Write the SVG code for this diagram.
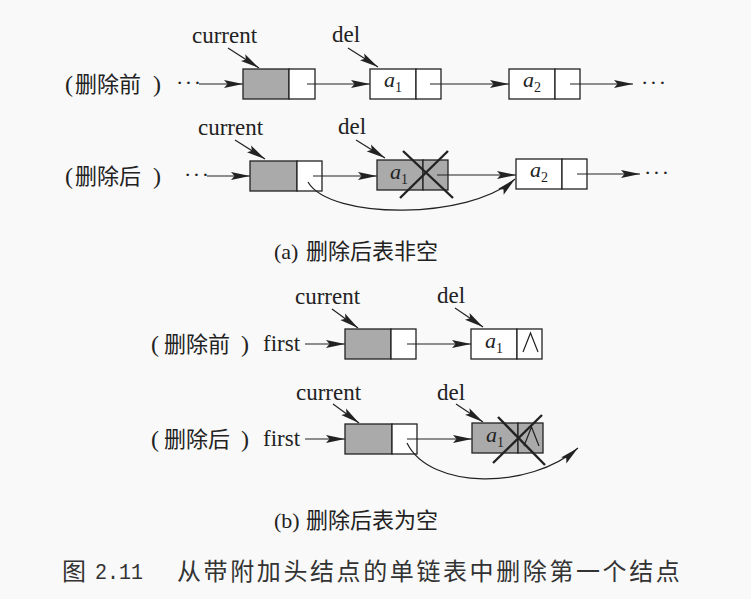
<svg xmlns="http://www.w3.org/2000/svg" width="751" height="599" viewBox="0 0 751 599">
<style>
.box{fill:#ffffff;stroke:#222;stroke-width:1.3}
.g{fill:#aaaaaa;stroke:#222;stroke-width:1.3}
.ln{fill:none;stroke:#222;stroke-width:1.2}
.x{fill:none;stroke:#222;stroke-width:2.4}
.t{font-family:"Liberation Serif","Times New Roman",serif;font-size:23px;fill:#222}
.a{font-family:"Liberation Serif","Times New Roman",serif;font-size:22px;font-style:italic;fill:#222}
.sub{font-style:normal;font-size:14px}
.cjk{font-family:"Noto Sans CJK SC",sans-serif;font-size:22px;fill:#222}
.par{font-family:"Liberation Serif",serif;font-size:24px;fill:#222}
.dots{font-family:"Liberation Serif",serif;font-size:22px;fill:#222;letter-spacing:1.5px}
.cap{font-family:"Liberation Serif","Noto Sans CJK SC",serif;font-size:22px;fill:#222}
.capc{font-family:"Noto Sans CJK SC",sans-serif;font-size:22px;fill:#222}
.fig{font-family:"Noto Sans CJK SC",sans-serif;font-size:24px;fill:#333}
</style>
<defs>
<marker id="ah" markerUnits="userSpaceOnUse" markerWidth="19" markerHeight="9" refX="19" refY="4.5" orient="auto">
<path d="M0,0.5 L19,4.5 L0,8.5 L3.5,4.5 Z" fill="#222"/>
</marker>
</defs>
<rect x="0" y="0" width="751" height="599" fill="#f9f9f9"/>

<!-- labels -->
<g id="labels">
<text class="par" x="65" y="92">(</text><text class="cjk" x="75" y="92">删除前</text><text class="par" x="153" y="92">)</text>
<text class="par" x="65" y="184">(</text><text class="cjk" x="75" y="184">删除后</text><text class="par" x="153" y="184">)</text>
<text class="par" x="151" y="352">(</text><text class="cjk" x="164" y="352">删除前</text><text class="par" x="241" y="352">)</text>
<text class="par" x="151" y="447">(</text><text class="cjk" x="164" y="447">删除后</text><text class="par" x="241" y="447">)</text>
<text class="dots" x="176" y="89.5">···</text>
<text class="dots" x="641" y="89.5">···</text>
<text class="dots" x="184" y="181.5">···</text>
<text class="dots" x="644" y="180">···</text>
<text class="t" x="263" y="351">first</text>
<text class="t" x="263" y="446">first</text>
<text class="t" x="192" y="43">current</text>
<text class="t" x="332" y="42">del</text>
<text class="t" x="198" y="135">current</text>
<text class="t" x="338" y="134">del</text>
<text class="t" x="295" y="304">current</text>
<text class="t" x="437" y="303">del</text>
<text class="t" x="296" y="400">current</text>
<text class="t" x="437" y="400">del</text>
<text class="cap" x="274" y="259">(a)<tspan class="capc" x="306">删除后表非空</tspan></text>
<text class="cap" x="274" y="528">(b)<tspan class="capc" x="306">删除后表为空</tspan></text>
<text class="fig" x="62" y="580">图</text>
<text x="95" y="579" font-family="Liberation Mono,monospace" font-size="22" fill="#333" textLength="48" lengthAdjust="spacingAndGlyphs">2.11</text>
<text class="fig" x="177" y="580" letter-spacing="2.6">从带附加头结点的单链表中删除第一个结点</text>
</g>

<!-- row 1 nodes -->
<g id="r1-current"><rect class="g" x="243" y="69" width="46" height="30"/><rect class="box" x="289" y="69" width="26" height="30"/></g>
<g id="r1-a1"><rect class="box" x="370" y="69" width="46" height="30"/><rect class="box" x="416" y="69" width="25" height="30"/><text class="a" x="384" y="87">a<tspan class="sub" dy="5">1</tspan></text></g>
<g id="r1-a2"><rect class="box" x="509" y="69" width="46" height="30"/><rect class="box" x="555" y="69" width="25" height="30"/><text class="a" x="523" y="87">a<tspan class="sub" dy="5">2</tspan></text></g>

<!-- row 2 nodes -->
<g id="r2-current"><rect class="g" x="250" y="161" width="47" height="30"/><rect class="box" x="297" y="161" width="25" height="30"/></g>
<g id="r2-a1"><rect class="g" x="377" y="160" width="46" height="30"/><rect class="g" x="423" y="160" width="25" height="30"/><text class="a" x="390" y="179">a<tspan class="sub" dy="5">1</tspan></text>
<line class="x" x1="400" y1="198" x2="448" y2="151"/><line class="x" x1="403" y1="151" x2="453" y2="198"/></g>
<g id="r2-a2"><rect class="box" x="516" y="159" width="46" height="30"/><rect class="box" x="562" y="159" width="25" height="30"/><text class="a" x="530" y="177">a<tspan class="sub" dy="5">2</tspan></text></g>

<!-- row 3 nodes -->
<g id="r3-current"><rect class="g" x="345" y="329" width="46" height="30"/><rect class="box" x="391" y="329" width="25" height="30"/></g>
<g id="r3-a1"><rect class="box" x="471" y="329" width="46" height="30"/><rect class="box" x="517" y="329" width="25" height="30"/><text class="a" x="485" y="348">a<tspan class="sub" dy="5">1</tspan></text>
<polyline class="ln" points="523,352 530.5,333 538,352"/></g>

<!-- row 4 nodes -->
<g id="r4-current"><rect class="g" x="345" y="424" width="47" height="30"/><rect class="box" x="392" y="424" width="25" height="30"/></g>
<g id="r4-a1"><rect class="g" x="472" y="423" width="46" height="30"/><rect class="g" x="518" y="423" width="25" height="30"/><text class="a" x="486" y="442">a<tspan class="sub" dy="5">1</tspan></text>
<polyline class="ln" points="524,446 531.5,427 539,446"/>
<line class="x" x1="493" y1="463" x2="542" y2="415"/><line class="x" x1="498" y1="417" x2="545" y2="465"/></g>

<!-- connectors -->
<g id="connectors" class="ln" marker-end="url(#ah)">
<line x1="199" y1="84" x2="243" y2="84"/>
<line x1="307" y1="84" x2="370" y2="84"/>
<line x1="430" y1="84" x2="509" y2="84"/>
<line x1="570" y1="84" x2="633" y2="84"/>
<line x1="228" y1="48" x2="259" y2="68"/>
<line x1="348" y1="48" x2="378" y2="67"/>

<line x1="207" y1="176" x2="250" y2="176"/>
<line x1="313" y1="176" x2="377" y2="176"/>
<line x1="437" y1="175" x2="516" y2="175"/>
<line x1="577" y1="174" x2="640" y2="174"/>
<line x1="235" y1="140" x2="265" y2="159"/>
<line x1="356" y1="140" x2="385" y2="158"/>
<path d="M308,182 C330,220 470,220 515,179"/>

<line x1="305" y1="344" x2="345" y2="344"/>
<line x1="407" y1="344" x2="471" y2="344"/>
<line x1="332" y1="309" x2="358" y2="328"/>
<line x1="455" y1="308" x2="483" y2="327"/>

<line x1="305" y1="439" x2="345" y2="439"/>
<line x1="407" y1="439" x2="472" y2="439"/>
<line x1="333" y1="404" x2="359" y2="423"/>
<line x1="456" y1="404" x2="483" y2="422"/>
<path d="M407,443 C430,490 530,490 578,448"/>
</g>
</svg>
